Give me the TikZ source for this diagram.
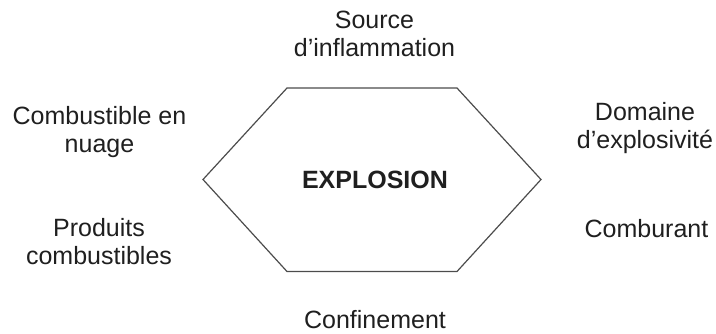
\documentclass[tikz,border=0pt]{standalone}
\usepackage{fontspec}
\setmainfont{Liberation Sans}
\begin{document}
\begin{tikzpicture}[x=1pt,y=-1pt,
  lbl/.style={align=center,font=\fontsize{25}{28}\selectfont,text=black!88,inner sep=0pt,anchor=base},
  hexline/.style={draw=black!70,line width=1.2pt,line join=miter}]
\useasboundingbox (0,0) rectangle (716,333);
\coordinate (h1) at (287,88);
\coordinate (h2) at (457,88);
\coordinate (h3) at (541,179.5);
\coordinate (h4) at (457,271.5);
\coordinate (h5) at (287,271.5);
\coordinate (h6) at (203,179.5);
\draw[hexline] (h1) -- (h2) -- (h3) -- (h4) -- (h5) -- (h6) -- cycle;
\node[lbl,font=\bfseries\fontsize{25}{28}\selectfont] (expl) at (375,188) {EXPLOSION};
\node[lbl] (src) at (374.5,56.5) {Source\\d’inflammation};
\node[lbl] (comb) at (99.5,152) {Combustible en\\nuage};
\node[lbl] (dom) at (645,148) {Domaine\\d’explosivité};
\node[lbl] (prod) at (99,264) {Produits\\combustibles};
\node[lbl] (cbr) at (646.5,237) {Comburant};
\node[lbl] (conf) at (375,328) {Confinement};
\end{tikzpicture}
\end{document}
